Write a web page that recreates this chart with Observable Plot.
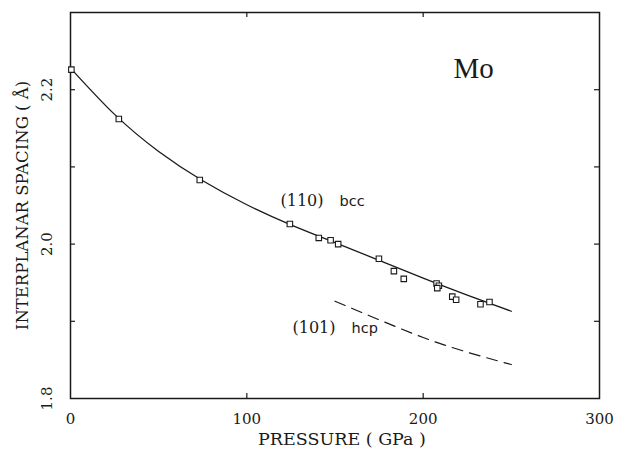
<!DOCTYPE html>
<html>
<head>
<meta charset="utf-8">
<script src="https://cdn.jsdelivr.net/npm/d3@7"></script>
<script src="https://cdn.jsdelivr.net/npm/@observablehq/plot@0.6"></script>
<style>
  html, body { margin: 0; padding: 0; background: #fff; }
</style>
</head>
<body>
<div id="chart"></div>
<script>
// Measured points, bcc (110)
const pressure = [0.5, 27.4, 73.3, 124.4, 140.8, 147.5, 151.8, 174.9, 183.4, 189.0, 207.6, 208.9, 208.0, 216.5, 218.7, 232.5, 237.6];
const spacing  = [2.226, 2.162, 2.083, 2.026, 2.008, 2.005, 2.000, 1.981, 1.965, 1.955, 1.949, 1.946, 1.943, 1.932, 1.928, 1.922, 1.925];
// Fitted bcc (110) curve
const bccFitP = [0, 25, 50, 75, 100, 125, 150, 175, 200, 225, 250];
const bccFitD = [2.228, 2.168, 2.120, 2.082, 2.051, 2.025, 2.002, 1.979, 1.956, 1.934, 1.913];
// Calculated hcp (101) curve
const hcpP = [150, 175, 200, 225, 250];
const hcpD = [1.926, 1.902, 1.879, 1.860, 1.844];
// Ticks
const xTicks = [0, 100, 200, 300];
const xInnerTicks = [100, 200];
const yTicks = [1.9, 2.0, 2.1, 2.2];
const yLabelTicks = [1.8, 2.0, 2.2];
// Annotations
const labels = [
  {p: 217.2, d: 2.2156, text: "Mo"}
];
const phaseLabels = [
  {p: 119.1, d: 2.049, num: "(110)", phase: "bcc"},
  {p: 125.9, d: 1.8844, num: "(101)", phase: "hcp"}
];

const points = pressure.map((p, i) => ({p, d: spacing[i]}));
const fit = bccFitP.map((p, i) => ({p, d: bccFitD[i]}));
const hcp = hcpP.map((p, i) => ({p, d: hcpD[i]}));

const W = 624, H = 454;
const mL = 70, mR = 25, mT = 12, mB = 56;
const pw = W - mL - mR, ph = H - mT - mB;
const ink = "#1a1a1a";
const serif = "'DejaVu Serif', serif";
const moSerif = "'Liberation Serif', serif";
const sans = "'DejaVu Sans', sans-serif";

const chart = Plot.plot({
  width: W, height: H,
  marginLeft: mL, marginRight: mR, marginTop: mT, marginBottom: mB,
  style: {fontFamily: serif, background: "#fff"},
  x: {domain: [0, 300], axis: null},
  y: {domain: [1.8, 2.3], axis: null},
  marks: [
    Plot.frame({stroke: ink, strokeWidth: 1.5}),
    // inward ticks
    Plot.tickX(xInnerTicks, {x: d => d, insetTop: ph - 5, stroke: ink, strokeWidth: 1.2}),
    Plot.tickX(xInnerTicks, {x: d => d, insetBottom: ph - 5, stroke: ink, strokeWidth: 1.2}),
    Plot.tickY(yTicks, {y: d => d, insetRight: pw - 5, stroke: ink, strokeWidth: 1.2}),
    Plot.tickY(yTicks, {y: d => d, insetLeft: pw - 5, stroke: ink, strokeWidth: 1.2}),
    // x tick labels
    Plot.text(xTicks, {x: d => d, frameAnchor: "bottom", dy: 25, textAnchor: "middle", text: d => String(d), fontSize: 15, fill: ink, fontFamily: serif}),
    // y tick labels rotated
    Plot.text(yLabelTicks, {y: d => d, frameAnchor: "left", dx: -23, rotate: -90, textAnchor: "middle", text: d => d.toFixed(1), fontSize: 15, fill: ink, fontFamily: serif}),
    // axis titles
    Plot.text(["PRESSURE ( GPa )"], {frameAnchor: "bottom", dy: 46, dx: 7, textAnchor: "middle", text: d => d, fontSize: 17.5, fill: ink, fontFamily: serif}),
    Plot.text(["INTERPLANAR SPACING ( Å)"], {frameAnchor: "left", dx: -48, rotate: -90, textAnchor: "middle", text: d => d, fontSize: 16.5, fill: ink, fontFamily: serif}),
    // curves
    Plot.line(fit, {x: "p", y: "d", curve: "natural", stroke: ink, strokeWidth: 1.3}),
    Plot.line(hcp, {x: "p", y: "d", curve: "natural", stroke: ink, strokeWidth: 1.2, strokeDasharray: "11,7"}),
    // data points
    Plot.dot(points, {x: "p", y: "d", symbol: "square", r: 3.1, stroke: ink, fill: "white", strokeWidth: 1.1}),
    // labels
    Plot.text(labels, {x: "p", y: "d", text: "text", fontSize: 29, textAnchor: "start", lineAnchor: "bottom", fill: ink, fontFamily: moSerif}),
    Plot.text(phaseLabels, {x: "p", y: "d", text: "num", fontSize: 16, textAnchor: "start", lineAnchor: "bottom", fill: ink, fontFamily: serif}),
    Plot.text(phaseLabels, {x: "p", y: "d", dx: 59, text: "phase", fontSize: 14.5, textAnchor: "start", lineAnchor: "bottom", fill: ink, fontFamily: sans})
  ]
});
document.getElementById("chart").appendChild(chart);
</script>
</body>
</html>
